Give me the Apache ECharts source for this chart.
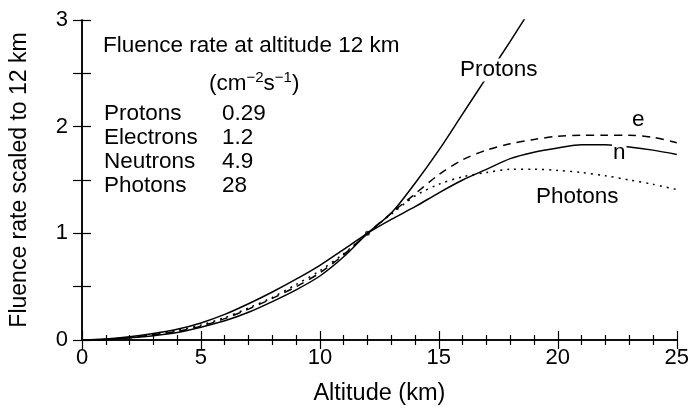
<!DOCTYPE html>
<html>
<head>
<meta charset="utf-8">
<script src="https://cdn.jsdelivr.net/npm/echarts@6/dist/echarts.min.js"></script>
<style>
  html, body { margin: 0; padding: 0; background: #fff; }
  #chart { width: 692px; height: 412px; }
</style>
</head>
<body>
<div id="chart"></div>
<script>
  const ALTITUDE = [0, 1, 2, 3, 4, 5, 6, 7, 8, 9, 10, 11, 12, 13, 14, 15, 16, 17, 18, 19, 20, 21, 22, 23, 24, 25]
  const PROTONS = [0, 0.005, 0.02, 0.04, 0.07, 0.12, 0.18, 0.26, 0.36, 0.47, 0.6, 0.78, 1.0, 1.19, 1.47, 1.78, 2.12, 2.46, 2.8, 3.15, null, null, null, null, null, null]
  const ELECTRONS = [0, 0.005, 0.02, 0.05, 0.08, 0.13, 0.2, 0.29, 0.39, 0.5, 0.63, 0.8, 1.0, 1.19, 1.37, 1.55, 1.69, 1.78, 1.84, 1.88, 1.91, 1.92, 1.92, 1.92, 1.9, 1.85]
  const NEUTRONS = [0, 0.01, 0.03, 0.06, 0.1, 0.16, 0.24, 0.34, 0.45, 0.57, 0.7, 0.85, 1.0, 1.13, 1.25, 1.38, 1.5, 1.6, 1.7, 1.76, 1.8, 1.83, 1.83, 1.81, 1.78, 1.74]
  const PHOTONS = [0, 0.007, 0.025, 0.05, 0.09, 0.14, 0.21, 0.3, 0.4, 0.52, 0.65, 0.81, 1.0, 1.18, 1.35, 1.46, 1.53, 1.57, 1.6, 1.6, 1.59, 1.57, 1.54, 1.5, 1.46, 1.41]

  // table in the upper left: particle name, fluence rate at 12 km
  const RATE_NAMES = ['Protons', 'Electrons', 'Neutrons', 'Photons']
  const RATE_VALUES = ['0.29', '1.2', '4.9', '28']
  const NORM_INDEX = 12 // every curve is scaled to 1 at 12 km

  const FONT = '"Liberation Sans", Arial, sans-serif'
  const pairs = (ys) => ALTITUDE.map((x, i) => [x, ys[i]])

  const axisLine = { show: true, lineStyle: { color: '#000', width: 1.5 } }
  const tick = { inside: true, length: 9, lineStyle: { color: '#000', width: 1.2 } }

  const lineSeries = (name, data, type) => ({
    name,
    type: 'line',
    data: pairs(data),
    smooth: 0.3,
    showSymbol: false,
    clip: true,
    lineStyle: { color: '#000', width: 1.5, type }
  })

  const textEl = (x, y, text, extra) => ({
    type: 'text',
    x,
    y,
    z: 100,
    style: Object.assign({ text, fill: '#000', font: '22.5px ' + FONT, verticalAlign: 'middle' }, extra || {})
  })
  // curve labels sit on a white patch that hides the line under them
  const curveLabel = (x, y, text) => textEl(x, y, text, { backgroundColor: '#fff', padding: [0, 1] })

  const tableEls = []
  RATE_NAMES.forEach((n, i) => {
    const y = 114 + i * 24
    tableEls.push(textEl(104, y, n))
    tableEls.push(textEl(222, y, RATE_VALUES[i]))
  })

  const option = {
    backgroundColor: '#fff',
    animation: false,
    textStyle: { fontFamily: FONT },
    grid: { left: 81, right: 14, top: 20, bottom: 72 },
    xAxis: [
      {
        type: 'value',
        min: 0,
        max: 25,
        interval: 5,
        name: 'Altitude (km)',
        nameLocation: 'middle',
        nameGap: 42,
        nameTextStyle: { color: '#000', fontSize: 23.5, fontFamily: FONT },
        axisLine,
        axisTick: tick,
        minorTick: { show: true, splitNumber: 5, length: 5, lineStyle: { color: '#000', width: 1.2 } },
        axisLabel: { color: '#000', fontSize: 22, fontFamily: FONT, margin: 7 },
        splitLine: { show: false }
      },
      {
        type: 'value',
        position: 'top',
        min: 0,
        max: 25,
        interval: 5,
        axisLine,
        axisTick: tick,
        minorTick: { show: true, splitNumber: 5, length: 5, lineStyle: { color: '#000', width: 1.2 } },
        axisLabel: { show: false },
        splitLine: { show: false }
      }
    ],
    yAxis: [
      {
        type: 'value',
        min: 0,
        max: 3,
        interval: 1,
        name: 'Fluence rate scaled to 12 km',
        nameLocation: 'middle',
        nameGap: 51,
        nameRotate: 90,
        nameTextStyle: { color: '#000', fontSize: 23, fontFamily: FONT },
        axisLine,
        axisTick: tick,
        minorTick: { show: true, splitNumber: 2, length: 9, lineStyle: { color: '#000', width: 1.2 } },
        axisLabel: { color: '#000', fontSize: 22, fontFamily: FONT, margin: 14 },
        splitLine: { show: false }
      },
      {
        type: 'value',
        position: 'right',
        min: 0,
        max: 3,
        interval: 1,
        axisLine,
        axisTick: tick,
        minorTick: { show: true, splitNumber: 2, length: 9, lineStyle: { color: '#000', width: 1.2 } },
        axisLabel: { show: false },
        splitLine: { show: false }
      }
    ],
    series: [
      lineSeries('Protons', PROTONS, 'solid'),
      lineSeries('Electrons', ELECTRONS, [8, 6]),
      lineSeries('Neutrons', NEUTRONS, 'solid'),
      lineSeries('Photons', PHOTONS, [2, 5]),
      {
        type: 'scatter',
        data: [[ALTITUDE[NORM_INDEX], NEUTRONS[NORM_INDEX]]],
        symbol: 'circle',
        symbolSize: 5,
        itemStyle: { color: '#000' },
        silent: true
      }
    ],
    graphic: [
      textEl(103, 46, 'Fluence rate at altitude 12 km'),
      {
        type: 'text',
        x: 209,
        y: 84,
        z: 100,
        style: {
          text: '{a|(cm}{s|−2}{a|s}{s|−1}{a|)}',
          fill: '#000',
          verticalAlign: 'middle',
          rich: {
            a: { fontSize: 22.5, fontFamily: FONT, color: '#000' },
            s: { fontSize: 15, fontFamily: FONT, color: '#000', padding: [0, 0, 12, 0] }
          }
        }
      },
      ...tableEls,
      curveLabel(459, 70, 'Protons'),
      curveLabel(631, 120, 'e'),
      curveLabel(612, 153, 'n'),
      textEl(536, 197, 'Photons')
    ]
  }

  const chart = echarts.init(document.getElementById('chart'))
  chart.setOption(option)
</script>
</body>
</html>
